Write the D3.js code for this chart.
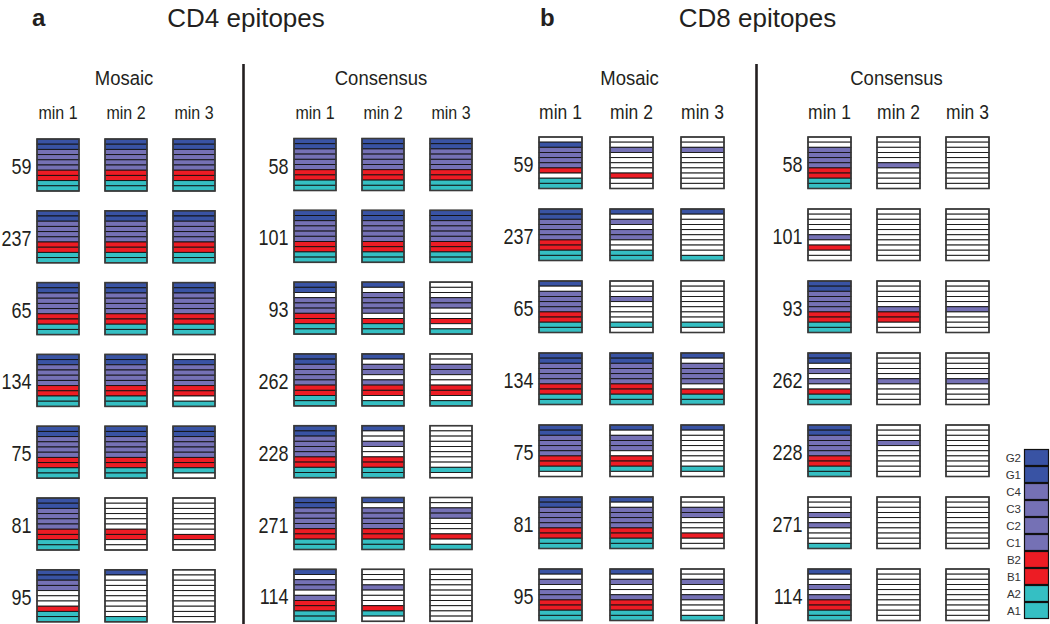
<!DOCTYPE html>
<html>
<head>
<meta charset="utf-8">
<script src="https://cdn.jsdelivr.net/npm/d3@7"></script>
<style>
  html, body { margin: 0; padding: 0; background: #fff; }
  svg { display: block; font-family: "Liberation Sans", Arial, Helvetica, sans-serif; }
</style>
</head>
<body>
<svg id="chart" width="1050" height="624"></svg>
<script>
// ---------- data ----------
const types = ["G2", "G1", "C4", "C3", "C2", "C1", "B2", "B1", "A2", "A1"];
const typeColors = ["#3953a4", "#3953a4", "#7571b5", "#7571b5", "#7571b5", "#7571b5", "#ed1c24", "#ed1c24", "#35bfc3", "#35bfc3"];
const mins = ["min 1", "min 2", "min 3"];
const mosaicAnimals = ["59", "237", "65", "134", "75", "81", "95"];
const consensusAnimals = ["58", "101", "93", "262", "228", "271", "114"];

// each string: G2 G1 C4 C3 C2 C1 B2 B1 A2 A1 (1 = recognised)
const cd4Mosaic = [
  ["1111111111", "1111111111", "1111111111"],
  ["1111111111", "1111111111", "1111111111"],
  ["1111111111", "1111111111", "1111111111"],
  ["1111111111", "1111111111", "0111111101"],
  ["1111111111", "1111111111", "1111111110"],
  ["1111111111", "0000001100", "0000000100"],
  ["1111000111", "1000000001", "0000000000"]
];
const cd4Consensus = [
  ["1111111111", "1111111111", "1111111111"],
  ["1111111111", "1111111111", "1111111111"],
  ["1101111111", "1011110111", "0001100101"],
  ["1111111111", "1011011101", "0011001101"],
  ["1111111111", "1001001111", "0000000010"],
  ["1111111111", "1011111111", "0011000101"],
  ["1011011111", "0001000110", "0000000000"]
];
const cd8Mosaic = [
  ["0111111011", "0010000100", "0010000000"],
  ["1111111111", "1010110011", "1000000001"],
  ["1011111111", "0001000010", "0000000010"],
  ["1111111111", "1111111111", "1011110111"],
  ["1111111110", "1011101110", "1000000010"],
  ["1111111111", "1011111111", "0011000100"],
  ["1010111111", "1010011111", "0010010001"]
];
const cd8Consensus = [
  ["0011111111", "0000010000", "0000000000"],
  ["0000010100", "0000000000", "0000000000"],
  ["1111111111", "0000011100", "0000010000"],
  ["1101010111", "0000010000", "0000010000"],
  ["1111111111", "0001000000", "0000000000"],
  ["0001010001", "0000000000", "0000000000"],
  ["1001011111", "0000000000", "0000000000"]
];

const figures = [
  { letter: "a", title: "CD4 epitopes" },
  { letter: "b", title: "CD8 epitopes" }
];
const groupTitles = ["Mosaic", "Consensus"];

// ---------- layout ----------
const svg = d3.select("#chart");
const textColor = "#231f20";
const color = d3.scaleOrdinal(types, typeColors);

const panels = [
  { fig: 0, group: 0, animals: mosaicAnimals, data: cd4Mosaic, x0: 37, step: 68, w: 42, y0: 139, pitch: 71.8, h: 52, minFs: 16 },
  { fig: 0, group: 1, animals: consensusAnimals, data: cd4Consensus, x0: 294, step: 68, w: 42, y0: 138.5, pitch: 71.8, h: 52, minFs: 16 },
  { fig: 1, group: 0, animals: mosaicAnimals, data: cd8Mosaic, x0: 539, step: 71, w: 43, y0: 137, pitch: 72, h: 51.5, minFs: 17.5 },
  { fig: 1, group: 1, animals: consensusAnimals, data: cd8Consensus, x0: 808, step: 69, w: 43, y0: 137, pitch: 72, h: 51.5, minFs: 17.5 }
];

const figLayout = [
  { letterX: 32, titleX: 246, divX: 243.5 },
  { letterX: 540, titleX: 757.5, divX: 756.5 }
];

// figure letters, titles, dividers
figures.forEach((f, i) => {
  const L = figLayout[i];
  svg.append("text").attr("x", L.letterX).attr("y", 26)
    .attr("font-size", 24).attr("font-weight", "bold").attr("fill", textColor).text(f.letter);
  svg.append("text").attr("x", L.titleX).attr("y", 27).attr("text-anchor", "middle")
    .attr("font-size", 26).attr("fill", textColor).text(f.title);
  svg.append("line").attr("x1", L.divX).attr("x2", L.divX).attr("y1", 64).attr("y2", 624)
    .attr("stroke", "#231f20").attr("stroke-width", 2.6);
});

function stretchedText(g, x, y, txt, fs, anchor, sy) {
  g.append("text")
    .attr("transform", `translate(${x},${y}) scale(1,${sy})`)
    .attr("text-anchor", anchor)
    .attr("font-size", fs)
    .attr("fill", textColor)
    .text(txt);
}

panels.forEach(p => {
  const g = svg.append("g");
  const xCol = d3.scaleBand().domain(mins)
    .range([p.x0, p.x0 + 2 * p.step + p.w])
    .paddingInner((p.step - p.w) / p.step).paddingOuter(0);
  const yRow = d3.scaleBand().domain(p.animals)
    .range([p.y0, p.y0 + 6 * p.pitch + p.h])
    .paddingInner((p.pitch - p.h) / p.pitch).paddingOuter(0);
  const yType = d3.scaleBand().domain(types).range([0, p.h]);

  // group title (centered over min 2)
  stretchedText(g, xCol("min 2") + xCol.bandwidth() / 2 - 2, 85, groupTitles[p.group], 18.5, "middle", 1.12);
  // min labels
  mins.forEach(m => {
    stretchedText(g, xCol(m) + xCol.bandwidth() / 2, 119, m, p.minFs, "middle", 1.12);
  });

  p.animals.forEach((a, ri) => {
    const y = yRow(a);
    // animal label
    stretchedText(g, xCol("min 1") - 5.5, y + p.h / 2 + 9, a, 18, "end", 1.18);
    mins.forEach((m, ci) => {
      const code = p.data[ri][ci];
      const cell = g.append("g").attr("transform", `translate(${xCol(m)},${y})`);
      cell.selectAll("rect.c")
        .data(types.map((t, k) => ({ t, on: code[k] === "1" })))
        .join("rect")
        .attr("class", "c")
        .attr("x", 0)
        .attr("y", d => yType(d.t))
        .attr("width", xCol.bandwidth())
        .attr("height", yType.bandwidth())
        .attr("fill", d => d.on ? color(d.t) : "#ffffff")
        .attr("stroke", "#111")
        .attr("stroke-width", 0.9);
      cell.append("rect")
        .attr("x", 0).attr("y", 0)
        .attr("width", xCol.bandwidth()).attr("height", p.h)
        .attr("fill", "none").attr("stroke", "#3a3a3a").attr("stroke-width", 1.6);
    });
  });
});

// legend
const legY = d3.scaleBand().domain(types).range([449, 619]);
const legend = svg.append("g");
legend.selectAll("rect")
  .data(types)
  .join("rect")
  .attr("x", 1024.5)
  .attr("y", d => legY(d) + 0.5)
  .attr("width", 24)
  .attr("height", legY.bandwidth() - 1)
  .attr("fill", d => color(d))
  .attr("stroke", "#111")
  .attr("stroke-width", 1.2);
legend.selectAll("text")
  .data(types)
  .join("text")
  .attr("x", 1021)
  .attr("y", d => legY(d) + legY.bandwidth() / 2 + 4)
  .attr("text-anchor", "end")
  .attr("font-size", 11.5)
  .attr("fill", "#333")
  .text(d => d);
</script>
</body>
</html>
